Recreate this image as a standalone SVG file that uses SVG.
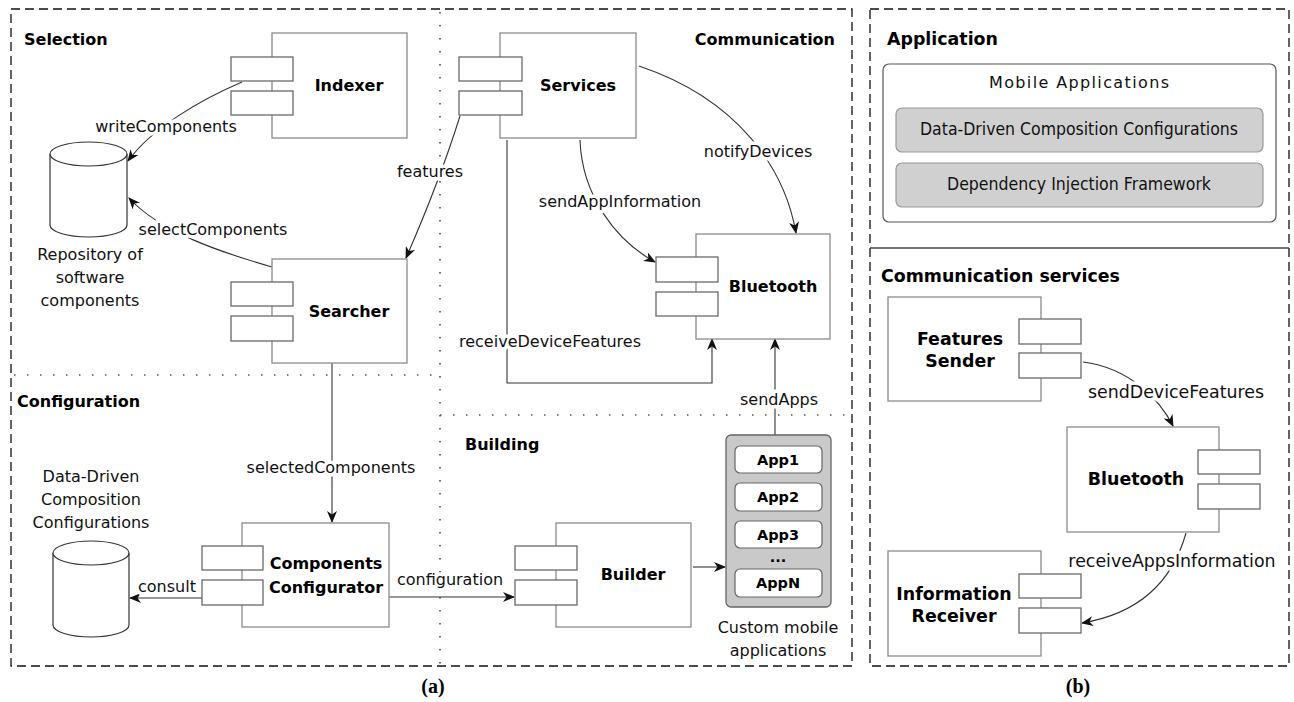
<svg xmlns="http://www.w3.org/2000/svg" width="1294" height="702" viewBox="0 0 1294 702">
<style>
  .bg{fill:#ffffff}
  .dash{fill:none;stroke:#111;stroke-width:1.3;stroke-dasharray:9 5}
  .dot{fill:none;stroke:#555;stroke-width:1.7;stroke-dasharray:1.5 11.5}
  .comp{fill:#fff;stroke:#8c8c8c;stroke-width:1.3}
  .port{fill:#fff;stroke:#6a6a6a;stroke-width:1.3}
  .db{fill:#fff;stroke:#333;stroke-width:1.2}
  .con{fill:none;stroke:#333;stroke-width:1.1}
  .arr{marker-end:url(#ah)}
  .sec{font-family:"DejaVu Sans",sans-serif;font-weight:bold;font-size:16px;fill:#000}
  .secb{font-family:"DejaVu Sans",sans-serif;font-weight:bold;font-size:17.4px;fill:#000}
  .nl{font-family:"DejaVu Sans",sans-serif;font-weight:bold;font-size:16px;text-anchor:middle;fill:#000}
  .nlb{font-family:"DejaVu Sans",sans-serif;font-weight:bold;font-size:17.4px;text-anchor:middle;fill:#000}
  .lbl{font-family:"DejaVu Sans",sans-serif;font-size:16px;text-anchor:middle;fill:#111;paint-order:stroke;stroke:#fff;stroke-width:7px;stroke-linejoin:round}
  .lblb{font-family:"DejaVu Sans",sans-serif;font-size:17.4px;text-anchor:middle;fill:#111;paint-order:stroke;stroke:#fff;stroke-width:7px;stroke-linejoin:round}
  .txt{font-family:"DejaVu Sans",sans-serif;font-size:16px;text-anchor:middle;fill:#111}
  .app{fill:#fff;stroke:#666;stroke-width:1.2}
  .appt{font-family:"DejaVu Sans",sans-serif;font-weight:bold;font-size:14.5px;text-anchor:middle;fill:#000}
  .cap{font-family:"Liberation Serif",serif;font-weight:bold;font-size:20px;text-anchor:middle;fill:#000}
</style>
<defs>
  <marker id="ah" viewBox="0 0 12 10" refX="11" refY="5" markerWidth="12" markerHeight="10" markerUnits="userSpaceOnUse" orient="auto">
    <path d="M0,0 L12,5 L0,10 L3.5,5 Z" fill="#111"/>
  </marker>
</defs>
<rect class="bg" x="0" y="0" width="1294" height="702"/>

<g id="frames">
  <rect class="dash" x="11" y="9" width="841" height="657"/>
  <rect class="dash" x="870" y="9" width="419" height="657"/>
  <line x1="870" y1="248" x2="1289" y2="248" stroke="#444" stroke-width="1.3"/>
  <line class="dot" x1="440" y1="12" x2="440" y2="664"/>
  <line class="dot" x1="14" y1="375" x2="440" y2="375"/>
  <line class="dot" x1="440" y1="415" x2="850" y2="415"/>
  <text class="sec" x="24" y="45">Selection</text>
  <text class="sec" x="835" y="45" text-anchor="end">Communication</text>
  <text class="sec" x="17" y="407">Configuration</text>
  <text class="sec" x="465" y="450">Building</text>
  <text class="secb" x="887" y="45">Application</text>
  <text class="secb" x="881" y="282">Communication services</text>
  <text class="cap" x="433" y="693">(a)</text>
  <text class="cap" x="1078" y="693">(b)</text>
</g>

<g id="connectors">
  <path class="con arr" d="M242,82 C200,100 152,128 128,161"/>
  <path class="con arr" d="M272,267 C220,252 160,232 129,198"/>
  <path class="con arr" d="M460,116 Q440,180 406,258"/>
  <path class="con arr" d="M639,66 C740,100 785,170 796,233"/>
  <path class="con arr" d="M580,140 C582,195 615,240 655,262"/>
  <path class="con arr" d="M507,140 V383 H712 V339"/>
  <path class="con arr" d="M775,435 V339"/>
  <path class="con arr" d="M332,363 V522"/>
  <path class="con arr" d="M202,598 H130"/>
  <path class="con arr" d="M389,597 H514"/>
  <path class="con arr" d="M693,567 H725"/>
  <path class="con arr" d="M1083,362 C1130,368 1160,400 1173,426"/>
  <path class="con arr" d="M1186,533 C1170,590 1130,615 1082,623"/>
  <text class="lbl" x="166" y="132">writeComponents</text>
  <text class="lbl" x="213" y="235">selectComponents</text>
  <text class="lbl" x="430" y="177">features</text>
  <text class="lbl" x="758" y="157">notifyDevices</text>
  <text class="lbl" x="620" y="207">sendAppInformation</text>
  <text class="lbl" x="550" y="347">receiveDeviceFeatures</text>
  <text class="lbl" x="779" y="405">sendApps</text>
  <text class="lbl" x="331" y="473">selectedComponents</text>
  <text class="lbl" x="167" y="592">consult</text>
  <text class="lbl" x="450" y="585">configuration</text>
  <text class="lblb" x="1176" y="398">sendDeviceFeatures</text>
  <text class="lblb" x="1172" y="567">receiveAppsInformation</text>
</g>

<g id="repository">
  <path class="db" d="M50,154 A38.5,12 0 0 1 127,154 V225 A38.5,12 0 0 1 50,225 Z"/>
  <path class="db" d="M50,154 A38.5,12 0 0 0 127,154"/>
  <text class="txt" x="90" y="260">Repository of</text>
  <text class="txt" x="90" y="283">software</text>
  <text class="txt" x="90" y="306">components</text>
</g>

<g id="ddcc-db">
  <text class="txt" x="91" y="482">Data-Driven</text>
  <text class="txt" x="91" y="505">Composition</text>
  <text class="txt" x="91" y="528">Configurations</text>
  <path class="db" d="M53,553 A38,12 0 0 1 129,553 V625 A38,12 0 0 1 53,625 Z"/>
  <path class="db" d="M53,553 A38,12 0 0 0 129,553"/>
</g>

<g id="indexer">
  <rect class="comp" x="272" y="33" width="135" height="105"/>
  <rect class="port" x="231" y="57" width="62" height="24"/>
  <rect class="port" x="231" y="91" width="62" height="24"/>
  <text class="nl" x="349" y="91">Indexer</text>
</g>

<g id="searcher">
  <rect class="comp" x="272" y="259" width="135" height="104"/>
  <rect class="port" x="231" y="282" width="62" height="24"/>
  <rect class="port" x="231" y="316" width="62" height="25"/>
  <text class="nl" x="349" y="317">Searcher</text>
</g>

<g id="services">
  <rect class="comp" x="500" y="33" width="136" height="105"/>
  <rect class="port" x="459" y="57" width="63" height="24"/>
  <rect class="port" x="459" y="91" width="63" height="24"/>
  <text class="nl" x="578" y="91">Services</text>
</g>

<g id="bluetooth-a">
  <rect class="comp" x="696" y="234" width="134" height="105"/>
  <rect class="port" x="656" y="257" width="62" height="25"/>
  <rect class="port" x="656" y="292" width="62" height="24"/>
  <text class="nl" x="773" y="292">Bluetooth</text>
</g>

<g id="components-configurator">
  <rect class="comp" x="242" y="523" width="147" height="104"/>
  <rect class="port" x="202" y="546" width="61" height="24"/>
  <rect class="port" x="202" y="580" width="61" height="25"/>
  <text class="nl" x="326" y="569">Components</text>
  <text class="nl" x="326" y="593">Configurator</text>
</g>

<g id="builder">
  <rect class="comp" x="556" y="523" width="135" height="104"/>
  <rect class="port" x="515" y="546" width="62" height="24"/>
  <rect class="port" x="515" y="580" width="62" height="25"/>
  <text class="nl" x="633" y="580">Builder</text>
</g>

<g id="custom-apps">
  <rect x="726" y="435" width="105" height="172" rx="5" fill="#c9c9c9" stroke="#666" stroke-width="1.3"/>
  <rect class="app" x="735" y="446" width="87" height="27" rx="5"/>
  <rect class="app" x="735" y="483" width="87" height="28" rx="5"/>
  <rect class="app" x="735" y="521" width="87" height="27" rx="5"/>
  <rect class="app" x="735" y="569" width="87" height="28" rx="5"/>
  <text class="appt" x="778" y="465">App1</text>
  <text class="appt" x="778" y="502">App2</text>
  <text class="appt" x="778" y="540">App3</text>
  <text class="appt" x="778" y="562">...</text>
  <text class="appt" x="778" y="588">AppN</text>
  <text class="txt" x="778" y="633">Custom mobile</text>
  <text class="txt" x="778" y="656">applications</text>
</g>

<g id="mobile-applications">
  <rect x="883" y="64" width="393" height="158" rx="6" fill="#fff" stroke="#555" stroke-width="1.2"/>
  <text x="1079" y="88" font-family="DejaVu Sans,sans-serif" font-size="16px" text-anchor="middle" fill="#111" textLength="180" lengthAdjust="spacing">Mobile Applications</text>
  <rect x="896" y="108" width="367" height="44" rx="6" fill="#d0d0d0" stroke="#999" stroke-width="1.2"/>
  <text x="1079" y="135" font-family="DejaVu Sans,sans-serif" font-size="17.5px" text-anchor="middle" fill="#111" textLength="318" lengthAdjust="spacingAndGlyphs">Data-Driven Composition Configurations</text>
  <rect x="896" y="163" width="367" height="44" rx="6" fill="#d0d0d0" stroke="#999" stroke-width="1.2"/>
  <text x="1079" y="190" font-family="DejaVu Sans,sans-serif" font-size="17.5px" text-anchor="middle" fill="#111" textLength="264" lengthAdjust="spacingAndGlyphs">Dependency Injection Framework</text>
</g>

<g id="features-sender">
  <rect class="comp" x="888" y="297" width="153" height="104"/>
  <rect class="port" x="1019" y="319" width="62" height="25"/>
  <rect class="port" x="1019" y="353" width="62" height="25"/>
  <text class="nlb" x="960" y="345">Features</text>
  <text class="nlb" x="960" y="367">Sender</text>
</g>

<g id="bluetooth-b">
  <rect class="comp" x="1067" y="427" width="152" height="105"/>
  <rect class="port" x="1198" y="450" width="62" height="24"/>
  <rect class="port" x="1198" y="484" width="62" height="25"/>
  <text class="nlb" x="1136" y="485">Bluetooth</text>
</g>

<g id="information-receiver">
  <rect class="comp" x="888" y="551" width="153" height="105"/>
  <rect class="port" x="1019" y="574" width="62" height="24"/>
  <rect class="port" x="1019" y="608" width="62" height="25"/>
  <text class="nlb" x="954" y="600">Information</text>
  <text class="nlb" x="954" y="622">Receiver</text>
</g>
</svg>
